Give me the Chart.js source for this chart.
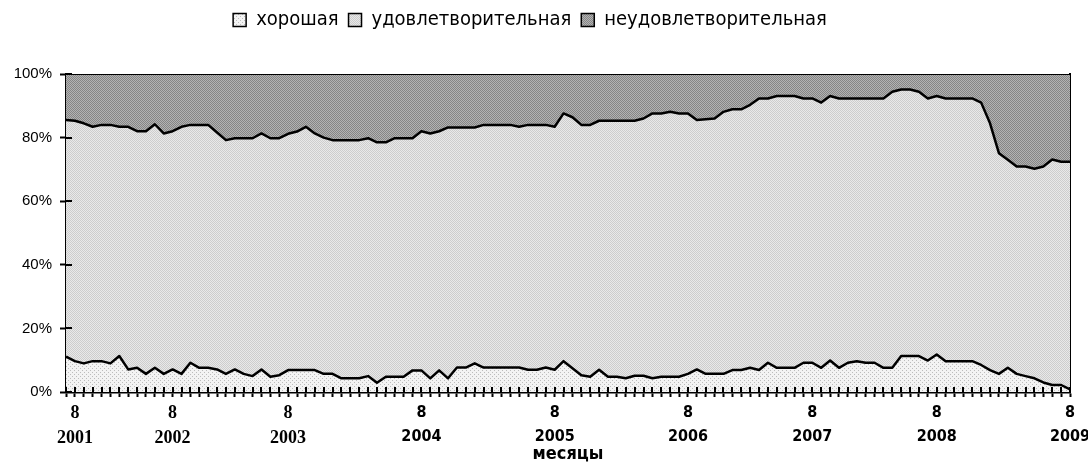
<!DOCTYPE html>
<html>
<head>
<meta charset="utf-8">
<script src="https://cdn.jsdelivr.net/npm/chart.js@4.4.1/dist/chart.umd.min.js"></script>
<style>
  html, body { margin: 0; padding: 0; background: #ffffff; }
  #wrap { width: 1088px; height: 463px; position: relative; }
</style>
</head>
<body>
<div id="wrap"><canvas id="c" width="1088" height="463"></canvas></div>
<script>
// ---- data (percent of total) ----
const seriesNames = ['хорошая', 'удовлетворительная', 'неудовлетворительная'];

const khoroshaya = [
  11.1, 9.7, 9.0, 9.7, 9.7, 9.0, 11.3, 7.1, 7.6, 5.7,
  7.6, 5.7, 7.1, 5.7, 9.2, 7.6, 7.6, 7.1, 5.7, 7.1,
  5.7, 5.0, 7.1, 4.8, 5.3, 6.9, 6.9, 6.9, 6.9, 5.7,
  5.7, 4.3, 4.3, 4.3, 5.0, 2.9, 4.8, 4.8, 4.8, 6.8,
  6.8, 4.3, 6.8, 4.3, 7.7, 7.7, 9.0, 7.7, 7.7, 7.7,
  7.7, 7.7, 7.0, 7.0, 7.7, 7.0, 9.7, 7.5, 5.3, 4.8,
  7.0, 4.8, 4.8, 4.3, 5.1, 5.1, 4.3, 4.8, 4.8, 4.8,
  5.7, 7.1, 5.7, 5.7, 5.7, 6.9, 6.9, 7.6, 6.9, 9.2,
  7.6, 7.6, 7.6, 9.2, 9.2, 7.6, 9.9, 7.6, 9.2, 9.7,
  9.2, 9.2, 7.6, 7.6, 11.3, 11.3, 11.3, 9.9, 11.8, 9.7,
  9.7, 9.7, 9.7, 8.5, 6.9, 5.7, 7.6, 5.7, 5.0, 4.3,
  3.0, 2.2, 2.2, 0.8
];

const udovletvoritelnaya = [
  74.4, 75.6, 75.5, 73.7, 74.3, 75.0, 72.1, 76.3, 74.4, 76.3,
  76.6, 75.6, 74.9, 77.7, 74.8, 76.4, 76.4, 74.5, 73.5, 72.7,
  74.1, 74.8, 74.2, 75.0, 74.5, 74.3, 75.0, 76.5, 74.4, 74.3,
  73.5, 74.9, 74.9, 74.9, 74.8, 75.6, 73.7, 75.0, 75.0, 73.0,
  75.2, 77.0, 75.2, 78.9, 75.5, 75.5, 74.2, 76.3, 76.3, 76.3,
  76.3, 75.7, 77.0, 77.0, 76.3, 76.4, 77.9, 78.9, 78.7, 79.2,
  78.3, 80.5, 80.5, 81.0, 80.2, 80.9, 83.3, 82.8, 83.3, 82.8,
  81.9, 78.4, 80.1, 80.3, 82.4, 82.0, 82.0, 82.7, 85.4, 83.1,
  85.5, 85.5, 85.5, 83.1, 83.1, 83.4, 83.2, 84.7, 83.1, 82.6,
  83.1, 83.1, 84.7, 86.8, 83.8, 83.8, 83.1, 82.4, 81.3, 82.6,
  82.6, 82.6, 82.6, 82.5, 77.6, 69.4, 65.4, 65.2, 65.9, 65.9,
  67.9, 70.9, 70.2, 71.6
];

const neudovletvoritelnaya = [
  14.5, 14.7, 15.5, 16.6, 16.0, 16.0, 16.6, 16.6, 18.0, 18.0,
  15.8, 18.7, 18.0, 16.6, 16.0, 16.0, 16.0, 18.4, 20.8, 20.2,
  20.2, 20.2, 18.7, 20.2, 20.2, 18.8, 18.1, 16.6, 18.7, 20.0,
  20.8, 20.8, 20.8, 20.8, 20.2, 21.5, 21.5, 20.2, 20.2, 20.2,
  18.0, 18.7, 18.0, 16.8, 16.8, 16.8, 16.8, 16.0, 16.0, 16.0,
  16.0, 16.6, 16.0, 16.0, 16.0, 16.6, 12.4, 13.6, 16.0, 16.0,
  14.7, 14.7, 14.7, 14.7, 14.7, 14.0, 12.4, 12.4, 11.9, 12.4,
  12.4, 14.5, 14.2, 14.0, 11.9, 11.1, 11.1, 9.7, 7.7, 7.7,
  6.9, 6.9, 6.9, 7.7, 7.7, 9.0, 6.9, 7.7, 7.7, 7.7,
  7.7, 7.7, 7.7, 5.6, 4.9, 4.9, 5.6, 7.7, 6.9, 7.7,
  7.7, 7.7, 7.7, 9.0, 15.5, 24.9, 27.0, 29.1, 29.1, 29.8,
  29.1, 26.9, 27.6, 27.6
];

// category tick labels: month number and year at selected points
const labelMonths = ['8', '8', '8', '8', '8', '8', '8', '8', '8'];
const labelYears  = ['2001', '2002', '2003', '2004', '2005', '2006', '2007', '2008', '2009'];
const labelIndex  = [1, 12, 25, 40, 55, 70, 84, 98, 113];

const yTickValues = [0, 20, 40, 60, 80, 100];
const axisTitleX = 'месяцы';

// ---- build categories ----
const categories = khoroshaya.map(() => '');
labelIndex.forEach((idx, k) => { categories[idx] = [labelMonths[k], labelYears[k]]; });

// ---- fill patterns ----
function makePattern(w, h, bg, dots) {
  const c = document.createElement('canvas');
  c.width = w; c.height = h;
  const g = c.getContext('2d');
  g.fillStyle = bg; g.fillRect(0, 0, w, h);
  dots.forEach(d => { g.fillStyle = d[2]; g.fillRect(d[0], d[1], 1, 1); });
  return document.getElementById('c').getContext('2d').createPattern(c, 'repeat');
}
const patGood = makePattern(4, 4, '#f3f3f3', [[0,0,'#bcbcbc'],[2,2,'#bcbcbc']]);
const patSat  = makePattern(2, 2, '#e9e9e9', [[0,0,'#cdcdcd'],[1,1,'#cdcdcd']]);
const patBad  = makePattern(2, 2, '#b3b3b3', [[0,0,'#858585'],[1,1,'#858585']]);

const narrow = "'DejaVu Sans Condensed', 'Liberation Sans Narrow', 'Liberation Sans', Arial, sans-serif";
const serif = "'Liberation Serif', 'Times New Roman', serif";

// cross ticks (inner half of tick marks) drawn from the scales
const innerTicks = {
  id: 'innerTicks',
  afterDraw(chart) {
    const ctx = chart.ctx;
    const xs = chart.scales.x, ys = chart.scales.y;
    ctx.save();
    ctx.strokeStyle = '#000';
    ctx.lineWidth = 2;
    ctx.beginPath();
    for (let i = 0; i < xs.ticks.length; i++) {
      const px = Math.round(xs.getPixelForTick(i));
      ctx.moveTo(px, xs.top); ctx.lineTo(px, xs.top - 5);
    }
    for (let i = 0; i < ys.ticks.length; i++) {
      const py = Math.round(ys.getPixelForTick(i));
      ctx.moveTo(ys.right, py); ctx.lineTo(ys.right + 6, py);
    }
    ctx.stroke();
    ctx.restore();
  }
};

const legendMargin = {
  id: 'legendMargin',
  beforeInit(chart) {
    const orig = chart.legend.fit;
    chart.legend.fit = function () {
      orig.bind(chart.legend)();
      this.height = 74;
    };
  }
};

new Chart(document.getElementById('c'), {
  type: 'line',
  data: {
    labels: categories,
    datasets: [
      { label: seriesNames[0], data: khoroshaya, backgroundColor: patGood, borderColor: '#000', borderWidth: 2.5, fill: 'origin', pointRadius: 0, tension: 0, borderJoinStyle: 'round' },
      { label: seriesNames[1], data: udovletvoritelnaya, backgroundColor: patSat, borderColor: '#000', borderWidth: 2.5, fill: '-1', pointRadius: 0, tension: 0, borderJoinStyle: 'round' },
      { label: seriesNames[2], data: neudovletvoritelnaya, backgroundColor: patBad, borderColor: '#000', borderWidth: 2, fill: '-1', pointRadius: 0, tension: 0, borderJoinStyle: 'miter' }
    ]
  },
  options: {
    responsive: false,
    animation: false,
    devicePixelRatio: 1,
    layout: { padding: { left: -28, right: 0, top: 0, bottom: 0 } },
    plugins: {
      tooltip: { enabled: false },
      legend: {
        position: 'top',
        align: 'center',
        labels: {
          boxWidth: 13,
          boxHeight: 13,
          padding: 10,
          color: '#000',
          font: { family: narrow, size: 20 },
          generateLabels(chart) {
            return chart.data.datasets.map((ds, i) => ({
              text: ds.label,
              fillStyle: ds.backgroundColor,
              strokeStyle: '#000',
              lineWidth: 1.5,
              hidden: false,
              datasetIndex: i,
              fontColor: '#000'
            }));
          }
        }
      }
    },
    scales: {
      x: {
        type: 'category',
        offset: false,
        grid: { display: true, drawOnChartArea: false, drawTicks: true, tickLength: 5, tickColor: '#000', tickWidth: 2 },
        border: { display: true, color: '#000', width: 2.5 },
        ticks: {
          autoSkip: false,
          maxRotation: 0,
          minRotation: 0,
          padding: 4,
          color: '#000',
          font: (ctx) => {
            const i = ctx.index;
            return (i !== undefined && i < 30)
              ? { family: serif, size: 18, weight: 'bold', lineHeight: 1.4 }
              : { family: narrow, size: 16, weight: 'bold', lineHeight: 1.5 };
          }
        },
        title: {
          display: true,
          text: axisTitleX,
          color: '#000',
          font: { family: narrow, size: 18, weight: 'bold', lineHeight: 1 },
          padding: { top: -3, bottom: 0 }
        },
        afterFit(scale) {
          scale.height = 71;
          scale.paddingLeft = 0;
          scale.paddingRight = 0;
        }
      },
      y: {
        type: 'linear',
        stacked: true,
        min: 0,
        max: 100,
        afterBuildTicks(scale) { scale.ticks = yTickValues.map(v => ({ value: v })); },
        grid: { display: true, drawOnChartArea: false, drawTicks: true, tickLength: 6, tickColor: '#000', tickWidth: 2 },
        border: { display: true, color: '#000', width: 2.5 },
        ticks: {
          padding: 8,
          color: '#000',
          font: { family: "'Liberation Sans', Arial, sans-serif", size: 15 },
          callback: (v) => v + '%'
        },
        afterFit(scale) { scale.width = 94; }
      },
      yRight: {
        type: 'linear',
        position: 'right',
        min: 0,
        max: 100,
        grid: { display: false, drawTicks: false },
        border: { display: true, color: '#000', width: 2 },
        ticks: { display: false },
        afterFit(scale) { scale.width = 18; }
      }
    }
  },
  plugins: [legendMargin, innerTicks]
});
</script>
</body>
</html>
